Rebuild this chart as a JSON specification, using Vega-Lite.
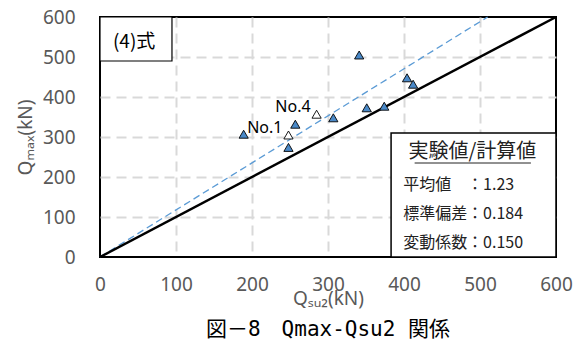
{
  "$schema": "https://vega.github.io/schema/vega-lite/v6.json",
  "width": 456,
  "height": 240,
  "autosize": {"type": "none"},
  "padding": {"left": 100, "top": 17, "right": 25, "bottom": 86},
  "background": "white",
  "config": {
    "view": {"stroke": "#000000", "strokeWidth": 2},
    "axis": {
      "domain": false,
      "ticks": false,
      "tickSize": 0,
      "tickCount": 12,
      "grid": true,
      "gridColor": "#d9d9d9",
      "gridDash": [10, 6],
      "gridWidth": 2,
      "gridOpacity": {"condition": {"test": "datum.value == 0 || datum.value == 600", "value": 0}, "value": 1},
      "labelFont": "Noto Sans",
      "labelFontSize": 19,
      "labelColor": "#595959",
      "labelOverlap": false,
      "labelFlush": false,
      "titleFont": "Noto Sans",
      "titleFontSize": 19,
      "titleFontWeight": "normal",
      "titleColor": "#595959"
    }
  },
  "title": {
    "text": "図－8　Qmax-Qsu2 関係",
    "orient": "bottom",
    "anchor": "middle",
    "offset": 11,
    "font": "'DejaVu Sans Mono', 'Noto Sans CJK JP'",
    "fontSize": 21,
    "fontWeight": "normal",
    "color": "#000000"
  },
  "datasets": {
    "pts": [
      {"qsu2": 189, "qmax": 307, "type": "blue", "label": null},
      {"qsu2": 257, "qmax": 332, "type": "blue", "label": null},
      {"qsu2": 248, "qmax": 305, "type": "white", "label": "No.1"},
      {"qsu2": 248, "qmax": 274, "type": "blue", "label": null},
      {"qsu2": 285, "qmax": 357, "type": "white", "label": "No.4"},
      {"qsu2": 307, "qmax": 348, "type": "blue", "label": null},
      {"qsu2": 341, "qmax": 505, "type": "blue", "label": null},
      {"qsu2": 404, "qmax": 448, "type": "blue", "label": null},
      {"qsu2": 412, "qmax": 432, "type": "blue", "label": null},
      {"qsu2": 351, "qmax": 373, "type": "blue", "label": null},
      {"qsu2": 374, "qmax": 377, "type": "blue", "label": null}
    ],
    "equal": [{"qsu2": 0, "qmax": 0}, {"qsu2": 600, "qmax": 600}],
    "fit": [{"qsu2": 0, "qmax": 0}, {"qsu2": 510, "qmax": 600}],
    "one": [{}]
  },
  "layer": [
    {
      "data": {"name": "fit"},
      "mark": {"type": "line", "color": "#5b9bd5", "strokeWidth": 1.3, "strokeDash": [7, 4]},
      "encoding": {
        "x": {"field": "qsu2", "type": "quantitative", "scale": {"domain": [0, 600], "nice": false},
              "axis": {"values": [0, 100, 200, 300, 400, 500, 600], "tickCount": 12, "title": "Qₛᵤ₂(kN)", "labelBaseline": "middle", "labelPadding": 27, "titleX": 228, "titleY": 41, "titleBaseline": "middle", "titleAlign": "center"}},
        "y": {"field": "qmax", "type": "quantitative", "scale": {"domain": [0, 600], "nice": false},
              "axis": {"values": [0, 100, 200, 300, 400, 500, 600], "tickCount": 12, "title": "Qₘₐₓ(kN)", "labelPadding": 25, "titleX": -75, "titleY": 120, "titleAngle": 270, "titleAlign": "center", "titleBaseline": "middle"}}
      }
    },
    {
      "data": {"name": "equal"},
      "mark": {"type": "line", "color": "#000000", "strokeWidth": 2.5},
      "encoding": {
        "x": {"field": "qsu2", "type": "quantitative"},
        "y": {"field": "qmax", "type": "quantitative"}
      }
    },
    {
      "data": {"name": "pts"},
      "mark": {"type": "point", "shape": "triangle-up", "filled": true, "stroke": "#000000", "strokeWidth": 0.9, "size": 85, "opacity": 1},
      "encoding": {
        "x": {"field": "qsu2", "type": "quantitative"},
        "y": {"field": "qmax", "type": "quantitative"},
        "fill": {"field": "type", "type": "nominal", "scale": {"domain": ["blue", "white"], "range": ["#4a89c8", "#ffffff"]}, "legend": null}
      }
    },
    {
      "data": {"name": "pts"},
      "transform": [{"filter": "datum.label != null"}],
      "mark": {"type": "text", "align": "right", "baseline": "middle", "dx": -6, "dy": -7, "font": "Noto Sans", "fontSize": 16, "color": "#000000"},
      "encoding": {
        "x": {"field": "qsu2", "type": "quantitative"},
        "y": {"field": "qmax", "type": "quantitative"},
        "text": {"field": "label"}
      }
    },
    {
      "data": {"name": "one"},
      "mark": {"type": "rect", "fill": "#ffffff", "stroke": "#000000", "strokeWidth": 1.2},
      "encoding": {
        "x": {"datum": 0, "type": "quantitative"},
        "x2": {"datum": 94.7},
        "y": {"datum": 490, "type": "quantitative"},
        "y2": {"datum": 600}
      }
    },
    {
      "data": {"name": "one"},
      "mark": {"type": "text", "align": "left", "baseline": "middle", "font": "Noto Sans CJK JP", "fontSize": 19, "color": "#000000"},
      "encoding": {
        "x": {"datum": 17, "type": "quantitative"},
        "y": {"datum": 537, "type": "quantitative"},
        "text": {"value": "(4)式"}
      }
    },
    {
      "data": {"name": "one"},
      "mark": {"type": "rect", "fill": "#ffffff", "stroke": "#000000", "strokeWidth": 1.5},
      "encoding": {
        "x": {"datum": 383, "type": "quantitative"},
        "x2": {"datum": 600},
        "y": {"datum": 0, "type": "quantitative"},
        "y2": {"datum": 310}
      }
    },
    {
      "data": {"name": "one"},
      "mark": {"type": "text", "align": "center", "baseline": "middle", "font": "Noto Sans CJK JP", "fontSize": 20, "color": "#222222"},
      "encoding": {
        "x": {"datum": 490, "type": "quantitative"},
        "y": {"datum": 262, "type": "quantitative"},
        "text": {"value": "実験値/計算値"}
      }
    },
    {
      "data": {"name": "one"},
      "mark": {"type": "rule", "color": "#222222", "strokeWidth": 1},
      "encoding": {
        "x": {"datum": 414, "type": "quantitative"},
        "x2": {"datum": 567},
        "y": {"datum": 235, "type": "quantitative"}
      }
    },
    {
      "data": {"name": "one"},
      "mark": {"type": "text", "align": "left", "baseline": "middle", "font": "Noto Sans CJK JP", "fontSize": 16, "lineHeight": 29, "color": "#222222"},
      "encoding": {
        "x": {"datum": 399, "type": "quantitative"},
        "y": {"datum": 181, "type": "quantitative"},
        "text": {"value": ["平均値", "標準偏差", "変動係数"]}
      }
    },
    {
      "data": {"name": "one"},
      "mark": {"type": "text", "align": "left", "baseline": "middle", "font": "Noto Sans CJK JP", "fontSize": 16, "lineHeight": 29, "color": "#222222"},
      "encoding": {
        "x": {"datum": 483, "type": "quantitative"},
        "y": {"datum": 181, "type": "quantitative"},
        "text": {"value": ["：1.23", "：0.184", "：0.150"]}
      }
    }
  ]
}
